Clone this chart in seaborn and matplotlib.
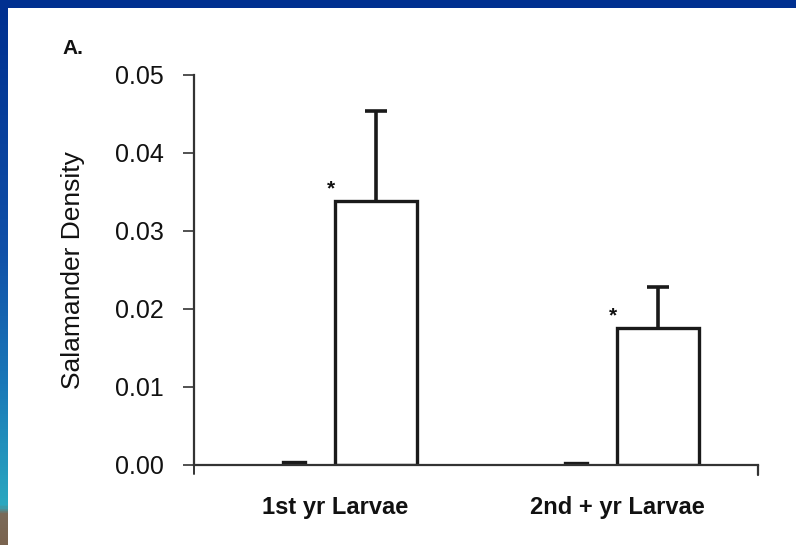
import numpy as np
import pandas as pd
import matplotlib
matplotlib.use("Agg")
import matplotlib.pyplot as plt
from matplotlib.patches import Rectangle
from matplotlib.colors import LinearSegmentedColormap
import seaborn as sns

# ---- data ----
stages = ["1st yr Larvae", "2nd + yr Larvae"]
treatments = ["Control", "Treatment"]
control_density = [0.0004, 0.0003]
treatment_density = [0.0339, 0.0176]
treatment_se = [0.0115, 0.0052]
significant = [True, True]
y_ticks = [0.00, 0.01, 0.02, 0.03, 0.04, 0.05]

df = pd.DataFrame({
    "stage": stages * 2,
    "group": [treatments[0]] * 2 + [treatments[1]] * 2,
    "density": control_density + treatment_density,
})

sns.set_theme(style="white")
plt.rcParams["font.family"] = ["Liberation Sans", "DejaVu Sans"]

W, H = 796, 545
fig = plt.figure(figsize=(W / 100, H / 100), dpi=100)
fig.patch.set_facecolor("#003090")

# white slide panel
fig.patches.append(Rectangle((8 / W, 0), 1 - 8 / W, 1 - 8 / H, transform=fig.transFigure,
                             facecolor="white", edgecolor="none", zorder=-5))
# left gradient strip
strip = fig.add_axes([0, 0, 8 / W, 1 - 8 / H])
cmap = LinearSegmentedColormap.from_list(
    "strip", [(0.0, "#003090"), (0.45, "#1050a8"), (0.7, "#1a78b8"),
              (0.93, "#2aa8c0"), (0.945, "#7a6a58"), (1.0, "#7a6450")])
strip.imshow(np.linspace(0, 1, 300).reshape(-1, 1), aspect="auto", cmap=cmap)
strip.set_axis_off()

ax = fig.add_axes([194 / W, 1 - 465 / H, (758 - 194) / W, (465 - 75) / H])
ax.set_facecolor("none")

sns.barplot(data=df, x="stage", y="density", hue="group", order=stages,
            hue_order=treatments, palette={"Control": "#1a1a1a", "Treatment": "white"},
            width=0.58, saturation=1, edgecolor="#1a1a1a", linewidth=2.4,
            legend=False, errorbar=None, ax=ax)

# narrow the near-zero control bars
for p in ax.containers[0]:
    cx = p.get_x() + p.get_width() / 2
    p.set_width(0.078)
    p.set_x(cx - 0.039)

# upward-only error bars and asterisks on treatment bars
cap_half = 0.038
for p, m, se, sig in zip(ax.containers[1], treatment_density, treatment_se, significant):
    cx = p.get_x() + p.get_width() / 2
    ax.vlines(cx, m, m + se, color="#1a1a1a", lw=2.6, zorder=1)
    ax.hlines(m + se, cx - cap_half, cx + cap_half, color="#1a1a1a", lw=2.6, zorder=1)
    if sig:
        ax.text(p.get_x() - 0.015, m + 0.0015, "*", ha="center", va="center",
                fontsize=15, fontweight="bold", color="#111111")

ax.set_xlim(-0.5, 1.5)
ax.set_ylim(0, 0.05)
ax.set_yticks(y_ticks)
ax.set_yticklabels([f"{v:.2f}" for v in y_ticks])
ax.set_xlabel("")
ax.set_ylabel("Salamander Density", fontsize=19, color="#111111", labelpad=21)

for s in ["top", "right"]:
    ax.spines[s].set_visible(False)
for s in ["left", "bottom"]:
    ax.spines[s].set_color("#333333")
    ax.spines[s].set_linewidth(1.6)

ax.tick_params(axis="y", which="both", left=True, length=8, width=1.2, color="#333333",
               labelsize=18, labelcolor="#111111", pad=14)
ax.tick_params(axis="x", bottom=False, labelsize=17, labelcolor="#111111", pad=16)
for lab in ax.get_xticklabels():
    lab.set_fontweight("bold")

# small end tick on x axis and cross at origin
ax.plot([1.5, 1.5], [0, -0.0013], color="#333333", lw=1.6, clip_on=False)
ax.plot([-0.5, -0.5], [0, -0.0012], color="#333333", lw=1.4, clip_on=False)
ax.plot([-0.5, -0.47], [0, 0], color="#333333", lw=1.4, clip_on=False)

fig.text(62 / W, 1 - 48 / H, "A.", fontsize=15, fontweight="bold", color="#111111",
         va="center", ha="left")

fig.savefig("out.png", dpi=100, facecolor=fig.get_facecolor())
